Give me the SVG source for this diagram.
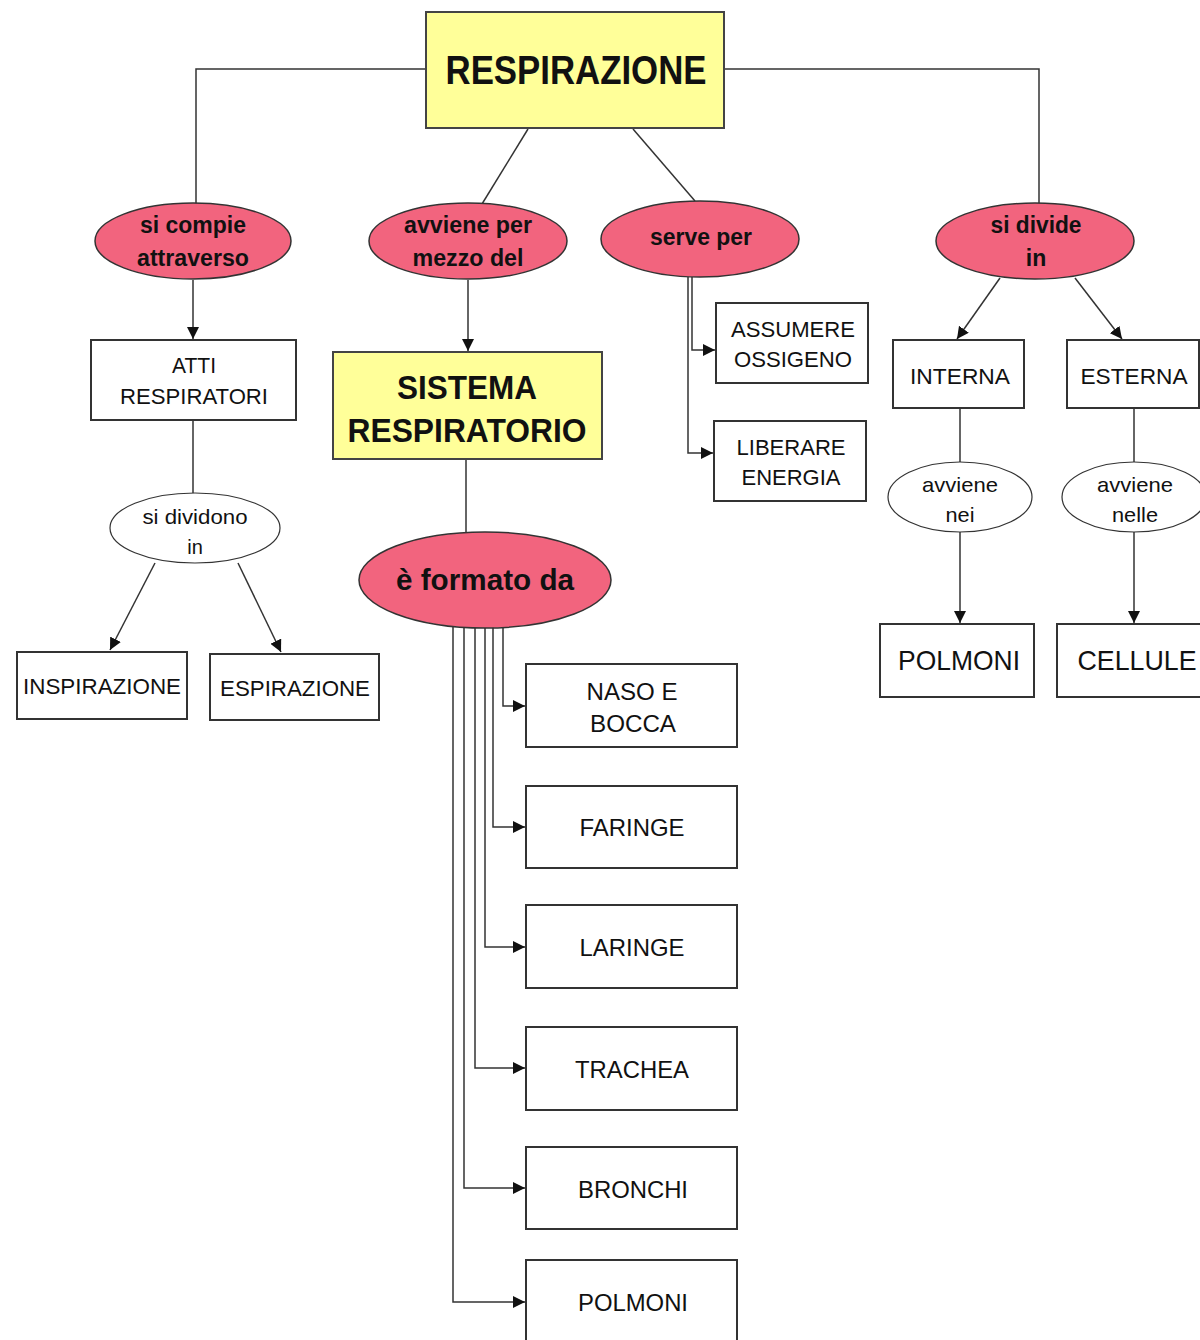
<svg xmlns="http://www.w3.org/2000/svg" width="1200" height="1340" viewBox="0 0 1200 1340">
<defs>
<marker id="arr" viewBox="0 0 10 10" refX="10" refY="5" markerWidth="12" markerHeight="12" markerUnits="userSpaceOnUse" orient="auto"><path d="M0,0 L10,5 L0,10 z" fill="#111"/></marker>
</defs>
<style>
.box{fill:#fff;stroke:#333;stroke-width:2}
.ybox{fill:#ffff99;stroke:#444;stroke-width:2}
.pink{fill:#f2647e;stroke:#333;stroke-width:1.5}
.wel{fill:#fff;stroke:#333;stroke-width:1.2}
.ln{fill:none;stroke:#333;stroke-width:1.5}
.ar{fill:none;stroke:#333;stroke-width:1.5;marker-end:url(#arr)}
text{font-family:"Liberation Sans",Arial,sans-serif;fill:#111;text-anchor:middle}
.b{font-weight:bold}
</style>
<rect width="1200" height="1340" fill="#fff"/>
<g id="connectors">
<polyline class="ln" points="426,69 196,69 196,205"/>
<polyline class="ln" points="724,69 1039,69 1039,204"/>
<line class="ln" x1="528" y1="129" x2="482" y2="204"/>
<line class="ln" x1="633" y1="129" x2="695" y2="201"/>
<line class="ar" x1="193" y1="280" x2="193" y2="339"/>
<line class="ln" x1="193" y1="421" x2="193" y2="493"/>
<line class="ar" x1="155" y1="563" x2="110" y2="650"/>
<line class="ar" x1="238" y1="563" x2="281" y2="652"/>
<line class="ar" x1="468" y1="280" x2="468" y2="351"/>
<line class="ln" x1="466" y1="460" x2="466" y2="532"/>
<polyline class="ar" points="692,277 692,350 715,350"/>
<polyline class="ar" points="688,277 688,453 713,453"/>
<polyline class="ar" points="503,627 503,706 525,706"/>
<polyline class="ar" points="493,627 493,827 525,827"/>
<polyline class="ar" points="485,628 485,947 525,947"/>
<polyline class="ar" points="475,628 475,1068 525,1068"/>
<polyline class="ar" points="464,627 464,1188 525,1188"/>
<polyline class="ar" points="453,626 453,1302 525,1302"/>
<line class="ar" x1="1000" y1="278" x2="957" y2="339"/>
<line class="ar" x1="1075" y1="278" x2="1122" y2="339"/>
<line class="ln" x1="960" y1="409" x2="960" y2="462"/>
<line class="ar" x1="960" y1="532" x2="960" y2="623"/>
<line class="ln" x1="1134" y1="409" x2="1134" y2="462"/>
<line class="ar" x1="1134" y1="532" x2="1134" y2="623"/>
</g>
<g id="respirazione"><rect class="ybox" x="426" y="12" width="298" height="116"/><text class="b" x="576" y="84" font-size="40" textLength="261" lengthAdjust="spacingAndGlyphs">RESPIRAZIONE</text></g>
<g id="si-compie"><ellipse class="pink" cx="193" cy="241" rx="98" ry="38"/><text class="b" x="193" y="233" font-size="23" textLength="106" lengthAdjust="spacingAndGlyphs">si compie</text><text class="b" x="193" y="266" font-size="23" textLength="112" lengthAdjust="spacingAndGlyphs">attraverso</text></g>
<g id="avviene-per"><ellipse class="pink" cx="468" cy="241" rx="99" ry="38"/><text class="b" x="468" y="233" font-size="23" textLength="128" lengthAdjust="spacingAndGlyphs">avviene per</text><text class="b" x="468" y="266" font-size="23" textLength="111" lengthAdjust="spacingAndGlyphs">mezzo del</text></g>
<g id="serve-per"><ellipse class="pink" cx="700" cy="239" rx="99" ry="38"/><text class="b" x="701" y="245" font-size="23" textLength="102" lengthAdjust="spacingAndGlyphs">serve per</text></g>
<g id="si-divide"><ellipse class="pink" cx="1035" cy="241" rx="99" ry="38"/><text class="b" x="1036" y="233" font-size="23" textLength="91" lengthAdjust="spacingAndGlyphs">si divide</text><text class="b" x="1036" y="266" font-size="23">in</text></g>
<g id="atti"><rect class="box" x="91" y="340" width="205" height="80"/><text x="194" y="373" font-size="22" textLength="44" lengthAdjust="spacingAndGlyphs">ATTI</text><text x="194" y="404" font-size="22" textLength="148" lengthAdjust="spacingAndGlyphs">RESPIRATORI</text></g>
<g id="si-dividono"><ellipse class="wel" cx="195" cy="528" rx="85" ry="35"/><text x="195" y="524" font-size="20" textLength="105" lengthAdjust="spacingAndGlyphs">si dividono</text><text x="195" y="554" font-size="20">in</text></g>
<g id="inspirazione"><rect class="box" x="17" y="652" width="170" height="67"/><text x="102" y="694" font-size="22" textLength="158" lengthAdjust="spacingAndGlyphs">INSPIRAZIONE</text></g>
<g id="espirazione"><rect class="box" x="210" y="654" width="169" height="66"/><text x="295" y="696" font-size="22" textLength="150" lengthAdjust="spacingAndGlyphs">ESPIRAZIONE</text></g>
<g id="sistema"><rect class="ybox" x="333" y="352" width="269" height="107"/><text class="b" x="467" y="399" font-size="33" textLength="140" lengthAdjust="spacingAndGlyphs">SISTEMA</text><text class="b" x="467" y="442" font-size="33" textLength="239" lengthAdjust="spacingAndGlyphs">RESPIRATORIO</text></g>
<g id="formato"><ellipse class="pink" cx="485" cy="580" rx="126" ry="48"/><text class="b" x="485" y="590" font-size="30" textLength="178" lengthAdjust="spacingAndGlyphs">è formato da</text></g>
<g id="assumere"><rect class="box" x="716" y="303" width="152" height="80"/><text x="793" y="337" font-size="22" textLength="124" lengthAdjust="spacingAndGlyphs">ASSUMERE</text><text x="793" y="367" font-size="22" textLength="118" lengthAdjust="spacingAndGlyphs">OSSIGENO</text></g>
<g id="liberare"><rect class="box" x="714" y="421" width="152" height="80"/><text x="791" y="455" font-size="22" textLength="109" lengthAdjust="spacingAndGlyphs">LIBERARE</text><text x="791" y="485" font-size="22" textLength="99" lengthAdjust="spacingAndGlyphs">ENERGIA</text></g>
<g id="interna"><rect class="box" x="893" y="340" width="131" height="68"/><text x="960" y="384" font-size="22" textLength="100" lengthAdjust="spacingAndGlyphs">INTERNA</text></g>
<g id="esterna"><rect class="box" x="1067" y="340" width="132" height="68"/><text x="1134" y="384" font-size="22" textLength="107" lengthAdjust="spacingAndGlyphs">ESTERNA</text></g>
<g id="avviene-nei"><ellipse class="wel" cx="960" cy="497" rx="72" ry="35"/><text x="960" y="492" font-size="21" textLength="76" lengthAdjust="spacingAndGlyphs">avviene</text><text x="960" y="522" font-size="21" textLength="29" lengthAdjust="spacingAndGlyphs">nei</text></g>
<g id="avviene-nelle"><ellipse class="wel" cx="1134" cy="497" rx="72" ry="35"/><text x="1135" y="492" font-size="21" textLength="76" lengthAdjust="spacingAndGlyphs">avviene</text><text x="1135" y="522" font-size="21" textLength="46" lengthAdjust="spacingAndGlyphs">nelle</text></g>
<g id="polmoni-r"><rect class="box" x="880" y="624" width="154" height="73"/><text x="959" y="670" font-size="28" textLength="122" lengthAdjust="spacingAndGlyphs">POLMONI</text></g>
<g id="cellule"><rect class="box" x="1057" y="624" width="150" height="73"/><text x="1137" y="670" font-size="28" textLength="119" lengthAdjust="spacingAndGlyphs">CELLULE</text></g>
<g id="naso"><rect class="box" x="526" y="664" width="211" height="83"/><text x="632" y="700" font-size="24" textLength="91" lengthAdjust="spacingAndGlyphs">NASO E</text><text x="633" y="732" font-size="24" textLength="86" lengthAdjust="spacingAndGlyphs">BOCCA</text></g>
<g id="faringe"><rect class="box" x="526" y="786" width="211" height="82"/><text x="632" y="836" font-size="24" textLength="105" lengthAdjust="spacingAndGlyphs">FARINGE</text></g>
<g id="laringe"><rect class="box" x="526" y="905" width="211" height="83"/><text x="632" y="956" font-size="24" textLength="105" lengthAdjust="spacingAndGlyphs">LARINGE</text></g>
<g id="trachea"><rect class="box" x="526" y="1027" width="211" height="83"/><text x="632" y="1078" font-size="24" textLength="114" lengthAdjust="spacingAndGlyphs">TRACHEA</text></g>
<g id="bronchi"><rect class="box" x="526" y="1147" width="211" height="82"/><text x="633" y="1198" font-size="24" textLength="110" lengthAdjust="spacingAndGlyphs">BRONCHI</text></g>
<g id="polmoni"><rect class="box" x="526" y="1260" width="211" height="90"/><text x="633" y="1311" font-size="24" textLength="110" lengthAdjust="spacingAndGlyphs">POLMONI</text></g>
</svg>
